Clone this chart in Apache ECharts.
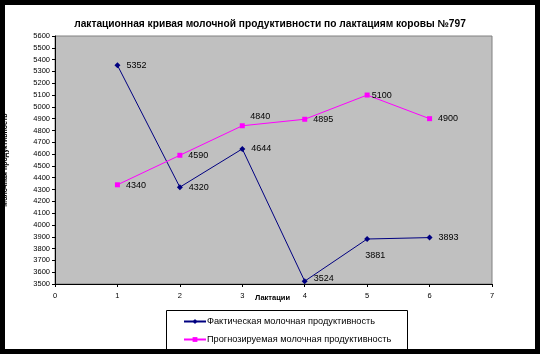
<!DOCTYPE html>
<html>
<head>
<meta charset="utf-8">
<script src="https://cdn.jsdelivr.net/npm/echarts@6/dist/echarts.min.js"></script>
<style>
  html, body { margin: 0; padding: 0; background: #fff; }
  #wrap { position: relative; width: 540px; height: 354px; }
  #chart { width: 540px; height: 354px; }
  #frame {
    position: absolute; left: 0; top: 0; width: 540px; height: 354px;
    box-sizing: border-box; border: 5px solid #000;
    pointer-events: none;
  }
</style>
</head>
<body>
<div id="wrap">
  <div id="chart"></div>
  <div id="frame"></div>
</div>
<script>
// lactation number
const lactations = [1, 2, 3, 4, 5, 6]
// actual milk yield
const actualYield = [5352, 4320, 4644, 3524, 3881, 3893]
// forecast milk yield
const forecastYield = [4340, 4590, 4840, 4895, 5100, 4900]

const seriesNames = ['Фактическая молочная продуктивность', 'Прогнозируемая молочная продуктивность']

const font = 'Liberation Sans, Arial, sans-serif'
const chart = echarts.init(document.getElementById('chart'))

const labelStyle = {
  show: true,
  position: 'right',
  distance: 6,
  color: '#000',
  fontSize: 9,
  fontFamily: font
}

const option = {
  animation: false,
  backgroundColor: '#fff',
  title: {
    text: 'лактационная кривая молочной продуктивности по лактациям коровы №797',
    left: 'center',
    top: 14,
    textStyle: { fontSize: 10.2, fontWeight: 'bold', color: '#000', fontFamily: font }
  },
  grid: {
    left: 55,
    right: 48,
    top: 36,
    bottom: 70,
    outerBoundsMode: 'none',
    containLabel: false,
    show: true,
    backgroundColor: '#c0c0c0',
    borderColor: '#808080',
    borderWidth: 1
  },
  legend: {
    orient: 'vertical',
    left: 183,
    top: 317,
    height: 40,
    padding: 0,
    itemWidth: 22,
    itemHeight: 6,
    itemGap: 9,
    textStyle: { fontSize: 9.2, color: '#000', fontFamily: font, padding: [0, 0, 0, -4] },
    data: seriesNames
  },
  xAxis: {
    type: 'value',
    min: 0,
    max: 7,
    interval: 1,
    splitLine: { show: false },
    axisLine: { lineStyle: { color: '#000', width: 1 } },
    axisTick: { show: true, length: 3, lineStyle: { color: '#000' } },
    axisLabel: { fontSize: 7.5, color: '#000', margin: 8, fontFamily: font }
  },
  yAxis: {
    type: 'value',
    min: 3500,
    max: 5600,
    interval: 100,
    name: 'Молочная продуктивность',
    nameLocation: 'middle',
    nameGap: 46,
    nameTextStyle: { fontSize: 7, fontWeight: 'bold', color: '#000', fontFamily: font },
    splitLine: { show: false },
    axisLine: { show: true, lineStyle: { color: '#000', width: 1 } },
    axisTick: { show: true, length: 3, lineStyle: { color: '#000' } },
    axisLabel: { fontSize: 7.5, color: '#000', margin: 5, fontFamily: font, formatter: v => String(v) }
  },
  graphic: [
    {
      type: 'text',
      left: 255,
      top: 294,
      style: { text: 'Лактации', fontSize: 7.5, fontWeight: 'bold', fill: '#000', fontFamily: font }
    },
    {
      type: 'rect',
      shape: { x: 166.5, y: 310.5, width: 241, height: 60 },
      style: { fill: '#fff', stroke: '#000', lineWidth: 1 },
      z: -1
    }
  ],
  series: [
    {
      name: seriesNames[0],
      type: 'line',
      symbol: 'diamond',
      symbolSize: 6,
      color: '#000080',
      lineStyle: { width: 1, color: '#000080' },
      label: labelStyle,
      data: lactations.map((x, i) => {
        const d = { value: [x, actualYield[i]] }
        if (i === 3) d.label = { offset: [0, -3] }
        if (i === 4) d.label = { position: 'bottom', offset: [8, 3] }
        return d
      })
    },
    {
      name: seriesNames[1],
      type: 'line',
      symbol: 'rect',
      symbolSize: 5,
      color: '#ff00ff',
      lineStyle: { width: 1, color: '#ff00ff' },
      label: labelStyle,
      data: lactations.map((x, i) => {
        const d = { value: [x, forecastYield[i]] }
        if (i === 0) d.label = { offset: [0, 1] }
        if (i === 2) d.label = { position: 'top', distance: 2, offset: [18, 0] }
        if (i === 4) d.label = { distance: 2 }
        return d
      })
    }
  ]
}

chart.setOption(option)
</script>
</body>
</html>
